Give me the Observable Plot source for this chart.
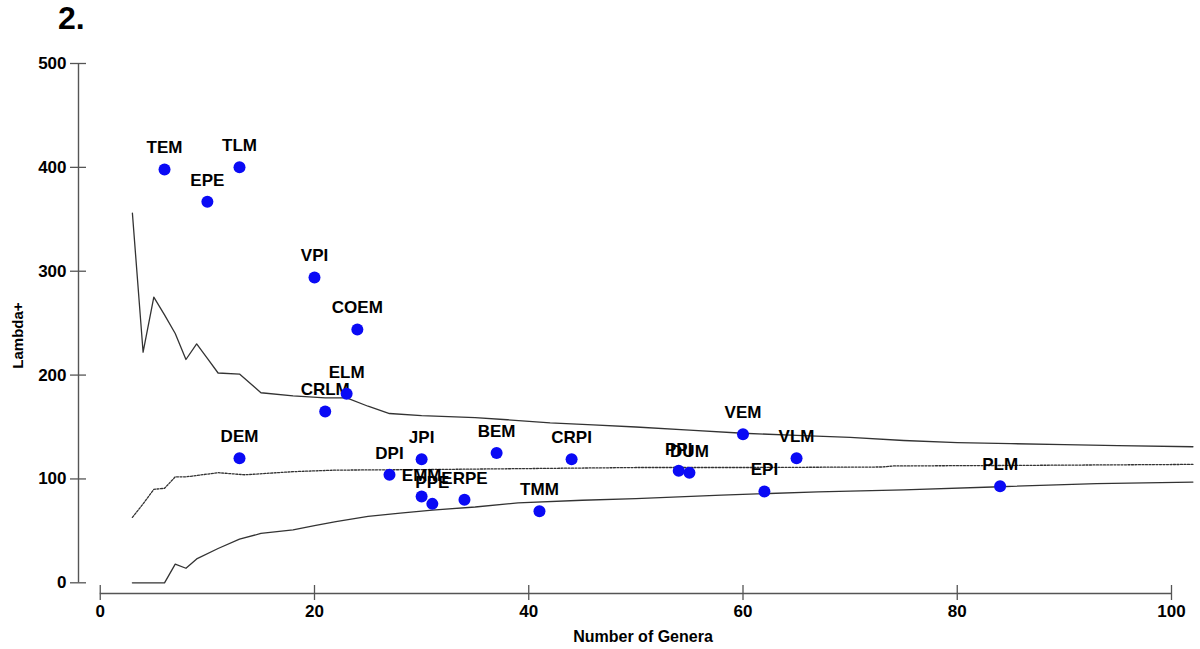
<!DOCTYPE html>
<html><head><meta charset="utf-8">
<script src="https://cdn.jsdelivr.net/npm/d3@7"></script>
<script src="https://cdn.jsdelivr.net/npm/@observablehq/plot@0.6"></script>
<style>
html,body{margin:0;padding:0;background:#fff;}
#title{height:44px;line-height:44px;padding-left:58px;font:bold 32px "Liberation Sans",Arial,sans-serif;color:#000;}
</style></head><body>
<div id="title">2.</div>
<div id="chart"></div>
<script>
const xTicks = [0, 20, 40, 60, 80, 100];
const yTicks = [0, 100, 200, 300, 400, 500];
const xDomain = [-2.03, 100];
const yDomain = [-10.3, 500];
const xLabel = "Number of Genera";
const yLabel = "Lambda+";

const labels = ["TEM","TLM","EPE","VPI","COEM","ELM","CRLM","DEM","DPI","JPI","EMM","PPE","ERPE","BEM","TMM","CRPI","PPI","DUM","VEM","VLM","EPI","PLM"];
const genera = [6,13,10,20,24,23,21,13,27,30,30,31,34,37,41,44,54,55,60,65,62,84];
const lambda = [398,400,367,294,244,182,165,120,104,119,83,76,80,125,69,119,108,106,143,120,88,93];

const upperX = [3,4,5,6,7,8,9,10,11,13,15,18,21,23,25,27,30,35,38,42,46,50,55,60,65,70,75,80,85,90,95,102];
const upperY = [356,222,275,258,240,215,230,216,202,201,183,180,178,178,170,163,161,159,157,154,152,150,147,144,142,140,137,135,134,133,132,131];
const meanX = [3,4,5,6,7,8,11,13.5,18,22,30,40,50,60,73,74,85,102];
const meanY = [63,76,90,91,102,102,106,104,107,108.5,109,110,111,111,111.5,112.5,113,114];
const lowerX = [3,6,7,8,9,11,13,15,18,20,22,25,28,31,35,39,45,50,58,67,75,84,93,102];
const lowerY = [0,0,18,14,23,33,42,47.5,51,55,59,64,67,70,73,77,79.5,81,84.5,87.5,89.5,92.5,95.5,97];

const points = labels.map((name, i) => ({name, x: genera[i], y: lambda[i]}));
const zip = (xs, ys) => xs.map((x, i) => ({x, y: ys[i]}));
const upper = zip(upperX, upperY);
const mean = zip(meanX, meanY);
const lower = zip(lowerX, lowerY);

const axisColor = "#555";
const lineColor = "#333";

const chart = Plot.plot({
  width: 1200,
  height: 605,
  marginTop: 19,
  marginBottom: 56,
  marginLeft: 78,
  marginRight: 29,
  x: {domain: xDomain},
  y: {domain: yDomain},
  style: {fontFamily: "'Liberation Sans', Arial, sans-serif", fontSize: "17px", fontWeight: "bold", color: "#000", background: "#fff", overflow: "visible"},
  marks: [
    Plot.ruleX([xDomain[0]], {y1: yTicks[0], y2: yTicks[yTicks.length - 1], stroke: axisColor, strokeWidth: 1.4}),
    Plot.ruleY([yDomain[0]], {x1: xTicks[0], x2: xTicks[xTicks.length - 1], stroke: axisColor, strokeWidth: 1.4}),
    Plot.axisY({ticks: yTicks, tickSize: 16, dx: 8, fill: "none", stroke: axisColor, strokeWidth: 1.3, label: null}),
    Plot.axisY({ticks: yTicks, tickSize: 0, tickPadding: 12, label: null, fontSize: 17}),
    Plot.axisX({ticks: xTicks, tickSize: 15, dy: -8, fill: "none", stroke: axisColor, strokeWidth: 1.3, label: null}),
    Plot.axisX({ticks: xTicks, tickSize: 0, tickPadding: 11, label: null, fontSize: 17}),
    Plot.text([xLabel], {text: d => d, frameAnchor: "bottom", dx: 18, dy: 48, lineAnchor: "bottom", fontSize: 16}),
    Plot.text([yLabel], {text: d => d, frameAnchor: "left", rotate: -90, dx: -60, dy: 7, textAnchor: "middle", lineAnchor: "middle", fontSize: 15}),
    Plot.line(upper, {x: "x", y: "y", stroke: lineColor, strokeWidth: 1.3}),
    Plot.line(mean, {x: "x", y: "y", stroke: lineColor, strokeWidth: 1.3, strokeDasharray: "2,1.5"}),
    Plot.line(lower, {x: "x", y: "y", stroke: lineColor, strokeWidth: 1.3}),
    Plot.text(points, {x: "x", y: "y", text: "name", dy: -16, lineAnchor: "bottom", textAnchor: "middle", fontSize: 17, fill: "#000"}),
    Plot.dot(points, {x: "x", y: "y", r: 6, fill: "#0a0af5", stroke: "none"})
  ]
});
document.getElementById("chart").appendChild(chart);
</script>
</body></html>
